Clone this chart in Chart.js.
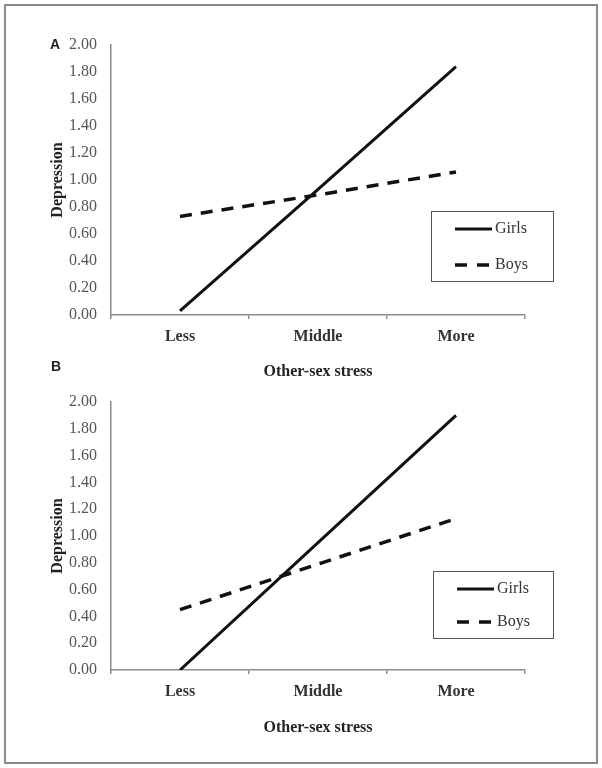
<!DOCTYPE html>
<html lang="en">
<head>
<meta charset="UTF-8">
<title>Depression by other-sex stress</title>
<script src="https://cdn.jsdelivr.net/npm/chart.js"></script>
<style>
  html, body { margin: 0; padding: 0; background: #fff; }
  body { width: 602px; height: 768px; position: relative; overflow: hidden; }
  .frame { position: absolute; left: 4px; top: 4px; width: 594px; height: 760px;
           box-sizing: border-box; border: 2px solid #8c8c8c; pointer-events: none; }
  .panel { position: absolute; left: 0; width: 602px; height: 384px; }
  .tag { position: absolute; font: bold 14px "Liberation Sans", Arial, sans-serif; color: #222; }
</style>
</head>
<body>
<div class="panel" style="top:0"><canvas id="chartA"></canvas></div>
<div class="panel" style="top:384px"><canvas id="chartB"></canvas></div>
<div class="tag" style="left:50px; top:36px">A</div>
<div class="tag" style="left:51px; top:358px">B</div>
<div class="frame"></div>

<script>
// data
const categories = ['Less', 'Middle', 'More'];
const seriesNames = ['Girls', 'Boys'];
const girlsA = [0.03, 0.93, 1.84];
const boysA = [0.73, 0.89, 1.06];
const girlsB = [0.00, 0.95, 1.90];
const boysB = [0.45, 0.79, 1.13];
const yMin = 0, yMax = 2, yStep = 0.2;
const xTitle = 'Other-sex stress';
const yTitle = 'Depression';

const serif = '"Liberation Serif", "Times New Roman", serif';

// boxed legend drawn inside the plot, like the Excel original
const boxLegend = {
  id: 'boxLegend',
  afterDraw(chart, args, o) {
    const ctx = chart.ctx;
    ctx.save();
    ctx.strokeStyle = '#555';
    ctx.lineWidth = 1;
    ctx.strokeRect(o.x + 0.5, o.y + 0.5, o.w, o.h);
    chart.data.datasets.forEach((ds, i) => {
      const y = o.y + o.first + i * o.gap;
      ctx.beginPath();
      ctx.setLineDash(ds.legendDash || []);
      ctx.lineWidth = ds.borderWidth;
      ctx.strokeStyle = ds.borderColor;
      ctx.moveTo(o.x + 24, y);
      ctx.lineTo(o.x + 61, y);
      ctx.stroke();
      ctx.setLineDash([]);
      ctx.fillStyle = '#333';
      ctx.font = '16px ' + serif;
      ctx.textBaseline = 'middle';
      ctx.fillText(ds.label, o.x + 64, y);
    });
    ctx.restore();
  }
};

function makeChart(id, girls, boys, cfg) {
  return new Chart(document.getElementById(id), {
    type: 'line',
    data: {
      labels: categories,
      datasets: [
        { label: seriesNames[0], data: girls, borderColor: '#111', borderWidth: 3,
          pointRadius: 0, tension: 0, legendDash: [] },
        { label: seriesNames[1], data: boys, borderColor: '#111', borderWidth: 3.5,
          pointRadius: 0, tension: 0, borderDash: [12, 9], legendDash: [12, 10] }
      ]
    },
    options: {
      responsive: true,
      maintainAspectRatio: false,
      animation: false,
      layout: { padding: { top: cfg.top, right: 77, left: 0, bottom: 0 } },
      plugins: {
        legend: { display: false },
        tooltip: { enabled: false },
        boxLegend: cfg.legend
      },
      scales: {
        x: {
          offset: true,
          grid: { offset: true, drawOnChartArea: false, drawTicks: true, tickLength: 4,
                  color: '#8c8c8c', lineWidth: 1.5 },
          border: { color: '#8c8c8c', width: 1.5 },
          ticks: { color: '#333', padding: 8, font: { family: serif, size: 16, weight: 'bold' } },
          title: { display: true, text: xTitle, color: '#222',
                   font: { family: serif, size: 16, weight: 'bold' },
                   padding: { top: 0, bottom: cfg.xTitlePad } },
          afterFit(s) { s.height = cfg.xHeight; s.paddingLeft = 0; s.paddingRight = 0; }
        },
        y: {
          min: yMin, max: yMax,
          grid: { display: false, drawTicks: false },
          border: { display: true, color: '#8c8c8c', width: 1.5 },
          ticks: { stepSize: yStep, color: '#555', padding: 14,
                   font: { family: serif, size: 16 },
                   callback: v => Number(v).toFixed(2) },
          title: { display: true, text: yTitle, color: '#222',
                   font: { family: serif, size: 16, weight: 'bold' },
                   padding: { top: 48, bottom: 0 } },
          afterFit(s) { s.width = 111; s.paddingTop = 0; s.paddingBottom = 0; }
        }
      }
    },
    plugins: [boxLegend]
  });
}

makeChart('chartA', girlsA, boysA, {
  top: 45, xHeight: 69, xTitlePad: 2.4,
  legend: { x: 431, y: 211, w: 122, h: 70, first: 18, gap: 36 }
});
makeChart('chartB', girlsB, boysB, {
  top: 18, xHeight: 98, xTitlePad: 30.4,
  legend: { x: 433, y: 187, w: 120, h: 67, first: 18, gap: 33 }
});
</script>
</body>
</html>
